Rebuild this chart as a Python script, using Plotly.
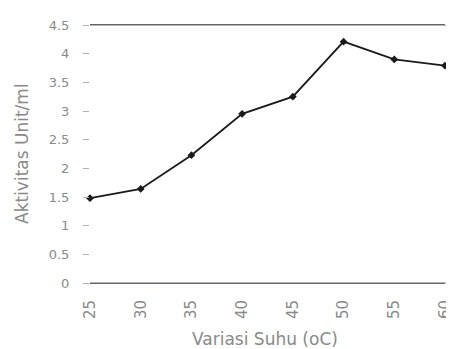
import plotly.graph_objects as go

suhu = [25, 30, 35, 40, 45, 50, 55, 60]
aktivitas = [1.48, 1.64, 2.23, 2.95, 3.25, 4.21, 3.9, 3.79]
y_ticks = [0, 0.5, 1, 1.5, 2, 2.5, 3, 3.5, 4, 4.5]
y_labels = ["0", "0.5", "1", "1.5", "2", "2.5", "3", "3.5", "4", "4.5"]
x_title = "Variasi Suhu (oC)"
y_title = "Aktivitas Unit/ml"

# page body has an 8px margin; the figure is sized/offset to compensate
OFF = 8
W, H = 454 - OFF, 349 - OFF
L, T, B, R = 90 - OFF, 25 - OFF, 349 - 283, 9
PW, PH = W - L - R, H - T - B

fig = go.Figure()
fig.add_trace(go.Scatter(
    x=suhu, y=aktivitas, mode="lines+markers",
    line=dict(color="#1a1a1a", width=1.8),
    marker=dict(symbol="diamond", size=6, color="#1a1a1a"),
    showlegend=False, cliponaxis=False,
))

fam = "DejaVu Sans, Liberation Sans, sans-serif"
fig.update_layout(
    width=W, height=H,
    margin=dict(l=L, r=R, t=T, b=B),
    paper_bgcolor="white", plot_bgcolor="white",
    font=dict(family=fam, size=12, color="#8a8a8a"),
    xaxis=dict(
        range=[25, 60], tickvals=suhu, ticktext=[str(s) for s in suhu],
        tickangle=-90, showgrid=False, zeroline=False,
        showline=True, linecolor="#666666", linewidth=1, mirror=True,
        ticks="", ticklabelstandoff=10, ticklabeloverflow="allow",
        automargin=False,
        tickfont=dict(family=fam, size=15, color="#8a8a8a"),
    ),
    yaxis=dict(
        range=[0, 4.5], tickvals=y_ticks, ticktext=y_labels,
        showgrid=False, zeroline=False, showline=False,
        ticks="outside", ticklen=6, tickcolor="#b0b0b0",
        ticklabelstandoff=11, automargin=False,
        tickfont=dict(family=fam, size=13, color="#8a8a8a"),
    ),
    shapes=[
        dict(type="line", xref="paper", yref="y", x0=0, x1=1 + R / PW,
             y0=4.5, y1=4.5, line=dict(color="#666666", width=1)),
        dict(type="line", xref="paper", yref="y", x0=0, x1=1 + R / PW,
             y0=0, y1=0, line=dict(color="#666666", width=1)),
    ],
    annotations=[
        dict(text=x_title, xref="paper", yref="paper",
             x=(265 - 90) / PW, y=-(339 - 283) / PH,
             showarrow=False, xanchor="center", yanchor="middle",
             font=dict(family=fam, size=17, color="#8a8a8a")),
        dict(text=y_title, xref="paper", yref="paper",
             x=(22 - 90) / PW, y=0.5,
             textangle=-90, showarrow=False, xanchor="center", yanchor="middle",
             font=dict(family=fam, size=17, color="#8a8a8a")),
    ],
)

fig.write_html("out.html")
